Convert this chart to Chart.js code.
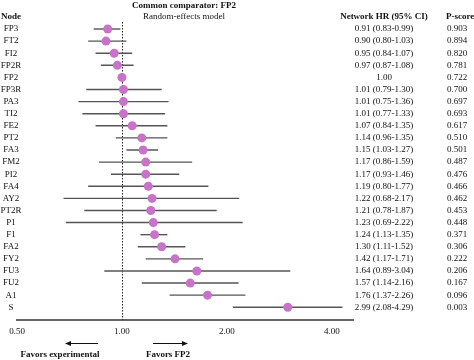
<!DOCTYPE html>
<html>
<head>
<meta charset="utf-8">
<script src="https://cdn.jsdelivr.net/npm/chart.js@4.4.1/dist/chart.umd.min.js"></script>
<style>
  html, body { margin: 0; padding: 0; background: #fff; }
  #wrap { width: 474px; height: 360px; }
</style>
</head>
<body>
<div id="wrap"><canvas id="forest"></canvas></div>
<script>
// Forest plot data (top row first)
const nodes = ['FP3', 'FT2', 'FI2', 'FP2R', 'FP2', 'FP3R', 'PA3', 'TI2', 'FE2', 'PT2', 'FA3', 'FM2',
  'PI2', 'FA4', 'AY2', 'PT2R', 'P1', 'F1', 'FA2', 'FY2', 'FU3', 'FU2', 'A1', 'S'];
const hr = [0.91, 0.90, 0.95, 0.97, 1.00, 1.01, 1.01, 1.01, 1.07, 1.14, 1.15, 1.17,
  1.17, 1.19, 1.22, 1.21, 1.23, 1.24, 1.30, 1.42, 1.64, 1.57, 1.76, 2.99];
const ciLow = [0.83, 0.80, 0.84, 0.87, null, 0.79, 0.75, 0.77, 0.84, 0.96, 1.03, 0.86,
  0.93, 0.80, 0.68, 0.78, 0.69, 1.13, 1.11, 1.17, 0.89, 1.14, 1.37, 2.08];
const ciHigh = [0.99, 1.03, 1.07, 1.08, null, 1.30, 1.36, 1.33, 1.35, 1.35, 1.27, 1.59,
  1.46, 1.77, 2.17, 1.87, 2.22, 1.35, 1.52, 1.71, 3.04, 2.16, 2.26, 4.29];
const pScore = ['0.903', '0.894', '0.820', '0.781', '0.722', '0.700', '0.697', '0.693', '0.617', '0.510', '0.501', '0.487',
  '0.476', '0.466', '0.462', '0.453', '0.448', '0.371', '0.306', '0.222', '0.206', '0.167', '0.096', '0.003'];
const xTicks = [0.5, 1, 2, 4];

const SERIF = '"Liberation Serif", "Times New Roman", serif';

// Text like "0.91 (0.83-0.99)"; the comparator row has no interval
function hrLabel(i) {
  if (ciLow[i] === null) return hr[i].toFixed(2);
  return hr[i].toFixed(2) + ' (' + ciLow[i].toFixed(2) + '-' + ciHigh[i].toFixed(2) + ')';
}

// Draws the confidence intervals and the line of no effect
const intervalPlugin = {
  id: 'intervals',
  beforeDatasetsDraw(chart) {
    const { ctx, chartArea, scales: { x, y } } = chart;
    ctx.save();
    // dotted reference line at HR = 1
    ctx.strokeStyle = '#222';
    ctx.lineWidth = 1;
    ctx.setLineDash([1.5, 1.5]);
    const x1 = Math.round(x.getPixelForValue(1)) + 0.5;
    ctx.beginPath();
    ctx.moveTo(x1, chartArea.top);
    ctx.lineTo(x1, chartArea.bottom);
    ctx.stroke();
    ctx.setLineDash([]);

    ctx.strokeStyle = '#555';
    ctx.lineWidth = 1.4;
    nodes.forEach((n, i) => {
      if (ciLow[i] === null) return;
      const py = y.getPixelForValue(i);
      ctx.beginPath();
      ctx.moveTo(x.getPixelForValue(ciLow[i]), py);
      ctx.lineTo(x.getPixelForValue(ciHigh[i]), py);
      ctx.stroke();
    });
    ctx.restore();
  }
};

// Node names, table columns, titles and the "favors" arrows
const textPlugin = {
  id: 'texts',
  afterDraw(chart) {
    const { ctx, scales: { y } } = chart;
    ctx.save();
    ctx.fillStyle = '#111';
    ctx.textBaseline = 'middle';

    ctx.font = 'bold 9px ' + SERIF;
    ctx.textAlign = 'center';
    ctx.fillText('Common comparator: FP2', 184, 6);
    ctx.font = '9px ' + SERIF;
    ctx.fillText('Random-effects model', 184, 17);

    ctx.font = 'bold 9px ' + SERIF;
    ctx.textAlign = 'left';
    ctx.fillText('Node', 1, 17);
    ctx.fillText('P-score', 446, 17);
    ctx.textAlign = 'center';
    ctx.fillText('Network HR (95% CI)', 384, 17);

    ctx.font = '9px ' + SERIF;
    nodes.forEach((n, i) => {
      const py = y.getPixelForValue(i);
      ctx.fillText(n, 11, py);
      ctx.fillText(hrLabel(i), 384, py);
      ctx.fillText(pScore[i], 457, py);
    });

    // arrows
    ctx.strokeStyle = '#111';
    ctx.lineWidth = 1;
    drawArrow(ctx, 98, 65, 343);
    drawArrow(ctx, 153, 188, 343);

    ctx.font = 'bold 9px ' + SERIF;
    ctx.fillText('Favors experimental', 60, 355);
    ctx.fillText('Favors FP2', 168, 355);
    ctx.restore();
  }
};

function drawArrow(ctx, fromX, toX, yPos) {
  const dir = toX > fromX ? 1 : -1;
  ctx.beginPath();
  ctx.moveTo(fromX, yPos + 0.5);
  ctx.lineTo(toX - dir * 4, yPos + 0.5);
  ctx.stroke();
  ctx.beginPath();
  ctx.moveTo(toX, yPos + 0.5);
  ctx.lineTo(toX - dir * 6, yPos - 2);
  ctx.lineTo(toX - dir * 6, yPos + 3);
  ctx.closePath();
  ctx.fill();
}

new Chart(document.getElementById('forest'), {
  type: 'scatter',
  data: {
    datasets: [{
      data: hr.map((v, i) => ({ x: v, y: i })),
      pointRadius: 4.5,
      pointBackgroundColor: '#c872c8',
      pointBorderWidth: 0,
      borderWidth: 0
    }]
  },
  options: {
    responsive: true,
    maintainAspectRatio: false,
    animation: false,
    layout: { padding: { left: 17, right: 121, top: 22, bottom: 17 } },
    plugins: { legend: { display: false }, tooltip: { enabled: false } },
    scales: {
      x: {
        type: 'logarithmic',
        min: 0.5,
        max: 4.6,
        afterBuildTicks: (axis) => { axis.ticks = xTicks.map(v => ({ value: v })); },
        ticks: {
          callback: (v) => Number(v).toFixed(2),
          font: { family: SERIF, size: 9 },
          color: '#111',
          padding: 6,
          maxRotation: 0,
          autoSkip: false
        },
        grid: { display: false, drawTicks: false },
        border: { display: true, color: '#666', width: 2 }
      },
      y: {
        type: 'linear',
        min: -0.58,
        max: 24.07,
        reverse: true,
        display: false
      }
    }
  },
  plugins: [intervalPlugin, textPlugin]
});
</script>
</body>
</html>
